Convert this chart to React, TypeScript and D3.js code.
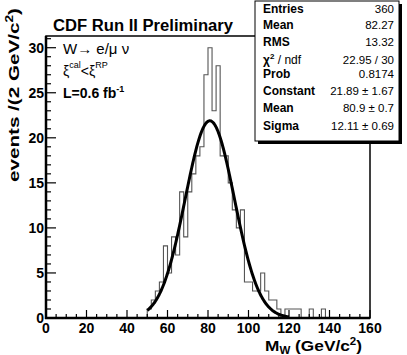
import React, { useEffect, useRef } from 'react'
import * as d3 from 'd3'

const W = 407
const H = 355
const font = '"Liberation Sans", Arial, Helvetica, sans-serif'

// lower edges of the 2 GeV bins (GeV/c^2)
const massBins = [48, 50, 52, 54, 56, 58, 60, 62, 64, 66, 68, 70, 72, 74, 76, 78, 80, 82, 84, 86,
  88, 90, 92, 94, 96, 98, 100, 102, 104, 106, 108, 110, 112, 114, 116, 118, 120, 122, 124, 126,
  128, 130, 132, 134, 136, 138]
// events per bin
const counts = [0, 1, 2, 3, 4, 8, 5, 9, 7, 14, 9, 14, 16, 18, 19, 27, 30, 23, 28, 18,
  18, 15, 12, 10, 12, 4, 4, 3, 3, 5, 3, 2, 2, 1, 0, 1, 1, 1, 1, 0,
  0, 1, 0, 0, 1, 0]

// gaussian fit
const fitConstant = 21.89
const fitMean = 80.9
const fitSigma = 12.11
const fitRange = [50, 120]

const xTicks = [0, 20, 40, 60, 80, 100, 120, 140, 160]
const yTicks = [0, 5, 10, 15, 20, 25, 30]

const statLabels = ['Entries', 'Mean', 'RMS', 'chi2', 'Prob', 'Constant', 'Mean', 'Sigma']
const statValues = ['360', '82.27', '13.32', '22.95 / 30', '0.8174', '21.89 \u00b1 1.67', '80.9 \u00b1 0.7', '12.11 \u00b1 0.69']

export default function App() {
  const ref = useRef<SVGSVGElement>(null)

  useEffect(() => {
    const svg = d3.select(ref.current)
    svg.selectAll('*').remove()

    const x = d3.scaleLinear().domain([0, 160]).range([46, 370])
    const y = d3.scaleLinear().domain([0, 31.3]).range([318, 36])

    svg.append('rect').attr('width', W).attr('height', H).attr('fill', 'white')

    // histogram outline
    const pts: [number, number][] = [[0, 0]]
    massBins.forEach((m, i) => pts.push([m, counts[i]]))
    pts.push([massBins[massBins.length - 1] + 2, 0])
    pts.push([160, 0])
    const step = d3.line<[number, number]>()
      .x(d => x(d[0])).y(d => y(d[1]))
      .curve(d3.curveStepAfter)
    svg.append('path').attr('d', step(pts))
      .attr('fill', 'none').attr('stroke', '#555').attr('stroke-width', 1.1)

    // fit curve
    const fitPts: [number, number][] = d3.range(fitRange[0], fitRange[1] + 0.01, 0.25)
      .map(m => [m, fitConstant * Math.exp(-0.5 * Math.pow((m - fitMean) / fitSigma, 2))])
    const smooth = d3.line<[number, number]>().x(d => x(d[0])).y(d => y(d[1]))
    svg.append('path').attr('d', smooth(fitPts))
      .attr('fill', 'none').attr('stroke', 'black').attr('stroke-width', 3)

    // frame
    svg.append('rect')
      .attr('x', x(0)).attr('y', y(31.3))
      .attr('width', x(160) - x(0)).attr('height', y(0) - y(31.3))
      .attr('fill', 'none').attr('stroke', 'black').attr('stroke-width', 1.5)
    svg.append('line').attr('x1', x(0)).attr('x2', x(0)).attr('y1', y(31.3)).attr('y2', y(0) + 1)
      .attr('stroke', 'black').attr('stroke-width', 2.5)
    svg.append('line').attr('x1', x(0) - 1).attr('x2', x(160)).attr('y1', y(0)).attr('y2', y(0))
      .attr('stroke', 'black').attr('stroke-width', 2.5)

    // y ticks
    d3.range(0, 32, 1).forEach(v => {
      const len = v % 5 === 0 ? 10 : 5
      svg.append('line').attr('x1', x(0)).attr('x2', x(0) + len)
        .attr('y1', y(v)).attr('y2', y(v)).attr('stroke', 'black').attr('stroke-width', 1.2)
    })
    svg.append('g').selectAll('text').data(yTicks).enter().append('text')
      .attr('x', 44).attr('y', d => y(d) + 5)
      .attr('text-anchor', 'end')
      .style('font', `bold 14px ${font}`)
      .text(d => d)

    // x ticks
    d3.range(0, 161, 5).forEach(v => {
      const len = v % 20 === 0 ? 8 : 4
      svg.append('line').attr('x1', x(v)).attr('x2', x(v))
        .attr('y1', y(0)).attr('y2', y(0) - len).attr('stroke', 'black').attr('stroke-width', 1.2)
    })
    svg.append('g').selectAll('text').data(xTicks).enter().append('text')
      .attr('x', d => x(d)).attr('y', 333)
      .attr('text-anchor', 'middle')
      .style('font', `bold 14px ${font}`)
      .text(d => d)

    // axis titles
    const xt = svg.append('text').attr('x', 265).attr('y', 351)
      .attr('textLength', 97).attr('lengthAdjust', 'spacingAndGlyphs')
      .style('font', `bold 15px ${font}`)
    xt.append('tspan').text('M')
    xt.append('tspan').attr('dy', 3).style('font-size', '10px').text('W')
    xt.append('tspan').attr('dy', -3).text(' (GeV/c')
    xt.append('tspan').attr('dy', -6).style('font-size', '10px').text('2')
    xt.append('tspan').attr('dy', 6).text(')')

    const yt = svg.append('text').attr('transform', 'translate(19,182) rotate(-90)')
      .attr('textLength', 174).attr('lengthAdjust', 'spacingAndGlyphs')
      .style('font', `bold 15px ${font}`)
    yt.append('tspan').text('events /(2 GeV/c')
    yt.append('tspan').attr('dy', -6).style('font-size', '10px').text('2')
    yt.append('tspan').attr('dy', 6).text(')')

    // title
    svg.append('text').attr('x', 53).attr('y', 31)
      .attr('textLength', 180).attr('lengthAdjust', 'spacingAndGlyphs')
      .style('font', `bold 16px ${font}`)
      .text('CDF Run II Preliminary')

    // annotations
    svg.append('text').attr('x', 63).attr('y', 54)
      .style('font', `15px ${font}`)
      .text('W\u2192 e/\u03bc \u03bd')
    const xi = svg.append('text').attr('x', 63).attr('y', 76).style('font', `14px ${font}`)
    xi.append('tspan').text('\u03be')
    xi.append('tspan').attr('dy', -8).style('font-size', '9px').text('cal')
    xi.append('tspan').attr('dy', 8).text('<\u03be')
    xi.append('tspan').attr('dy', -8).style('font-size', '9px').text('RP')
    const lum = svg.append('text').attr('x', 63).attr('y', 98).style('font', `bold 14px ${font}`)
    lum.append('tspan').text('L=0.6 fb')
    lum.append('tspan').attr('dy', -6).style('font-size', '9px').text('-1')

    // stats box
    const bx = 255, by = 1, bw = 144, bh = 140
    svg.append('rect').attr('x', bx + 3).attr('y', by + 3).attr('width', bw).attr('height', bh)
      .attr('fill', 'black')
    svg.append('rect').attr('x', bx).attr('y', by).attr('width', bw).attr('height', bh)
      .attr('fill', 'white').attr('stroke', 'black').attr('stroke-width', 1)
    const rowY = [13, 29, 46, 64, 78, 95, 112, 130]
    statLabels.forEach((lab, i) => {
      const t = svg.append('text').attr('x', bx + 8).attr('y', rowY[i])
        .style('font', `bold 12px ${font}`)
      if (lab === 'chi2') {
        t.append('tspan').text('\u03c7')
        t.append('tspan').attr('dy', -5).style('font-size', '8px').text('2')
        t.append('tspan').attr('dy', 5).style('font-weight', 'normal').text(' / ndf')
      } else {
        t.text(lab)
      }
      svg.append('text').attr('x', bx + bw - 5).attr('y', rowY[i])
        .attr('text-anchor', 'end')
        .style('font', `11.5px ${font}`)
        .text(statValues[i])
    })
  }, [])

  return (
    <svg ref={ref} width={W} height={H}
      style={{ position: 'absolute', left: 0, top: 0, display: 'block' }} />
  )
}
